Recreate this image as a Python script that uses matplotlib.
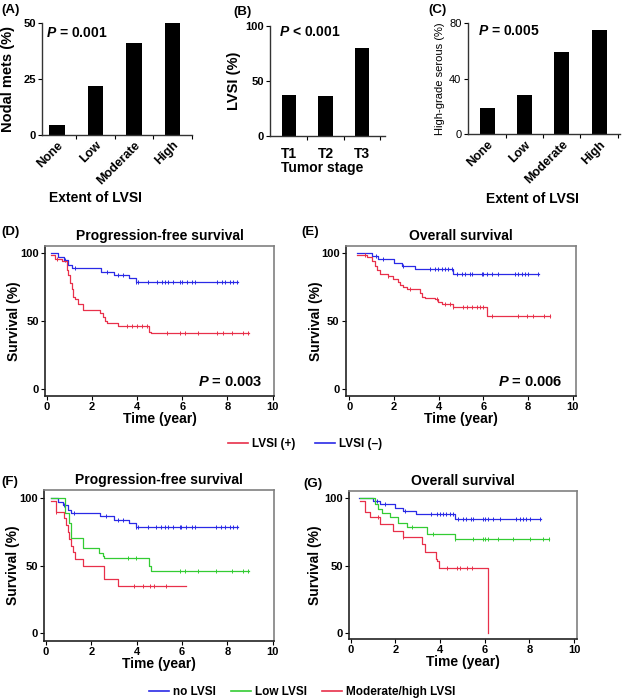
import numpy as np
import matplotlib
matplotlib.use('Agg')
import matplotlib.pyplot as plt
from matplotlib.lines import Line2D

plt.rcParams['font.family'] = ['Liberation Sans', 'DejaVu Sans']
plt.rcParams['mathtext.fontset'] = 'custom'
plt.rcParams['mathtext.it'] = 'Liberation Sans:italic:bold'
plt.rcParams['mathtext.rm'] = 'Liberation Sans:bold'

W, H = 622, 698

# ---- bar data ----
lvsi_extent = ['None', 'Low', 'Moderate', 'High']
nodal_mets = [4.5, 22, 41, 50]
tumor_stage = ['T1', 'T2', 'T3']
lvsi_by_stage = [37, 36, 80]
hg_serous = [19, 28, 59, 75]

# ---- Kaplan-Meier data (step times, survival after step, censor times) ----
pfs_neg_t = [0.2, 0.52, 0.75, 0.95, 1.1, 2.4, 3.0, 3.65, 3.95, 8.45]
pfs_neg_s = [100, 97.5, 95, 91.5, 89, 86.5, 84, 81.5, 79, 79]
pfs_neg_c = [0.81, 1.25, 2.65, 3.17, 3.39, 3.95, 4.06, 4.5, 4.87, 5.09, 5.24, 5.38, 5.6,
             5.9, 5.97, 6.19, 6.42, 6.56, 7.52, 7.74, 7.89, 8.11, 8.26, 8.44]

pfs_pos_t = [0.2, 0.37, 0.66, 0.88, 0.95, 1.03, 1.1, 1.18, 1.25, 1.4, 1.62, 2.36, 2.5,
             2.58, 2.65, 3.17, 4.53, 4.6, 8.95]
pfs_pos_s = [99, 96, 94, 88, 84, 78, 74, 68, 66, 63, 58, 56, 53, 50, 49, 46.5, 42, 41, 41]
pfs_pos_c = [0.44, 3.54, 3.76, 3.98, 4.2, 4.42, 5.31, 5.9, 6.12, 6.71, 7.52, 7.82, 8.19,
             8.7, 8.92]

os_neg_t = [0.35, 1.0, 1.3, 2.0, 2.35, 2.94, 4.66, 8.5]
os_neg_s = [100, 98, 95.5, 93, 90.5, 88.5, 85, 85]
os_neg_c = [1.18, 1.52, 2.42, 3.61, 3.84, 3.99, 4.13, 4.28, 4.43, 4.58, 4.81, 5.03, 5.18,
            5.4, 5.48, 5.93, 6.0, 6.15, 6.37, 6.67, 7.42, 7.57, 7.72, 7.87, 8.01, 8.46]

os_pos_t = [0.35, 0.78, 1.0, 1.15, 1.22, 1.37, 1.75, 1.97, 2.2, 2.27, 2.42, 2.57, 3.16,
            3.24, 3.39, 3.84, 3.99, 4.13, 4.66, 6.15, 8.96]
os_pos_s = [98.5, 97, 94, 91, 88, 85, 83, 81, 79, 77, 75, 74, 71, 68, 67, 66, 64, 63,
            60.5, 53.5, 53.5]
os_pos_c = [0.7, 1.75, 2.72, 3.91, 4.28, 4.51, 4.66, 5.1, 5.25, 5.48, 5.7, 5.85, 6.0,
            6.37, 7.57, 7.94, 8.24, 8.69, 8.96]

pfs_low_t = [0.2, 0.85, 1.03, 1.1, 1.62, 2.36, 2.5, 2.58, 4.55, 4.63, 8.95]
pfs_low_s = [100, 89, 81.5, 70.5, 63, 59.5, 57, 55.7, 50, 45.8, 45.8]
pfs_low_c = [3.61, 3.98, 5.9, 6.12, 6.71, 7.52, 8.19, 8.7, 8.92]

pfs_mh_t = [0.2, 0.44, 0.8, 0.88, 0.95, 1.03, 1.1, 1.18, 1.3, 1.62, 2.55, 3.17, 6.17]
pfs_mh_s = [98, 90, 85, 80, 75, 70, 65, 60, 55, 50, 40, 35, 35]
pfs_mh_c = [0.44, 3.9, 4.28, 4.6, 4.75, 5.31]

os_low_t = [0.4, 1.09, 1.24, 1.39, 1.76, 2.13, 2.5, 3.4, 4.67, 8.9]
os_low_s = [100, 96, 92, 89, 86, 82, 78.5, 73.5, 69.5, 69.5]
os_low_c = [2.73, 3.7, 4.67, 5.49, 5.94, 6.01, 6.16, 6.61, 7.28, 8.03, 8.63, 8.9]

os_mh_t = [0.4, 0.64, 0.87, 1.3, 1.9, 2.33, 3.18, 3.33, 3.8, 3.88, 3.95, 6.16]
os_mh_s = [98, 90, 86, 81, 76, 71, 66, 60, 55, 53, 48.5, 0]
os_mh_c = [1.24, 2.36, 4.3, 4.75, 4.9, 5.19, 5.42]

BLUE = '#2a2ae6'
RED = '#e8304a'
GREEN = '#33cc33'

fig = plt.figure(figsize=(W / 100, H / 100), dpi=100)


def add_ax(l, t, r, b):
    return fig.add_axes([l / W, 1 - b / H, (r - l) / W, (b - t) / H])


def px(x, y):
    return x / W, 1 - y / H


def bar_panel(ax, labels, vals, xlim, ylim, yticks, rot, ybold=True):
    x = np.arange(len(labels))
    ax.bar(x, vals, width=0.4, color='black')
    ax.set_xlim(*xlim)
    ax.set_ylim(*ylim)
    ax.set_yticks(yticks)
    for s in ['top', 'right']:
        ax.spines[s].set_visible(False)
    for s in ['left', 'bottom']:
        ax.spines[s].set_color('#333333')
        ax.spines[s].set_linewidth(1.0)
    ax.tick_params(axis='y', length=3, width=0.8, pad=1.5, labelsize=8)
    for lab in ax.get_yticklabels():
        lab.set_fontweight('bold' if ybold else 'normal')
    ax.set_xticks(x + 0.5, minor=True)
    ax.tick_params(axis='x', which='minor', length=3, width=0.8)
    ax.set_xticks(x)
    if rot:
        ax.set_xticklabels(labels, rotation=45, ha='right', va='top',
                           rotation_mode='anchor', fontsize=9, fontweight='bold')
        ax.tick_params(axis='x', which='major', length=0, pad=3)
    else:
        ax.set_xticklabels(labels, fontsize=10, fontweight='bold')
        ax.tick_params(axis='x', which='major', length=0, pad=8)


# (A)
axA = add_ax(42, 23, 192, 135)
bar_panel(axA, lvsi_extent, nodal_mets, (-0.39, 3.49), (0, 50), [0, 25, 50], True)
axA.set_ylabel('Nodal mets (%)', fontsize=10.5, fontweight='bold')
axA.yaxis.set_label_coords(-0.18, 0.5)
axA.text(-0.28, 45.5, '$P$ = 0.001', fontsize=10, fontweight='bold', va='center')
fig.text(*px(95, 198), 'Extent of LVSI', fontsize=10, fontweight='bold', ha='center', va='center')
fig.text(*px(1, 10), '(A)', fontsize=9.5, fontweight='bold', va='center')

# (B)
axB = add_ax(270, 25.7, 385, 135.7)
bar_panel(axB, tumor_stage, lvsi_by_stage, (-0.52, 2.63), (0, 100), [0, 50, 100], False)
axB.set_ylabel('LVSI (%)', fontsize=10.5, fontweight='bold', labelpad=3)
axB.text(-0.27, 94.5, '$P$ < 0.001', fontsize=10, fontweight='bold', va='center')
fig.text(*px(322, 168), 'Tumor stage', fontsize=10, fontweight='bold', ha='center', va='center')
fig.text(*px(233, 12), '(B)', fontsize=9.5, fontweight='bold', va='center')

# (C)
axC = add_ax(467.7, 23.3, 620, 134.3)
bar_panel(axC, lvsi_extent, hg_serous, (-0.52, 3.56), (0, 80), [0, 40, 80], True, ybold=False)
axC.set_ylabel('High-grade serous (%)', fontsize=8, labelpad=3)
axC.text(-0.25, 74.5, '$P$ = 0.005', fontsize=10, fontweight='bold', va='center')
fig.text(*px(532, 199), 'Extent of LVSI', fontsize=10, fontweight='bold', ha='center', va='center')
fig.text(*px(428, 10), '(C)', fontsize=9.5, fontweight='bold', va='center')


def km(ax, t, s, c, color):
    t = np.asarray(t)
    s = np.asarray(s)
    ax.step(t, s, where='post', color=color, lw=0.9)
    c = np.asarray(c)
    idx = np.searchsorted(t, c, side='right') - 1
    ax.plot(c, s[np.clip(idx, 0, len(s) - 1)], ls='none', marker='|', ms=3,
            mew=0.7, color=color)


def surv_panel(ax, xlim, ylim, title, ylab_x):
    ax.set_xlim(*xlim)
    ax.set_ylim(*ylim)
    ax.set_xticks([0, 2, 4, 6, 8, 10])
    ax.set_yticks([0, 50, 100])
    for s in ['left', 'bottom']:
        ax.spines[s].set_color('#222222')
        ax.spines[s].set_linewidth(1.2)
    for s in ['top', 'right']:
        ax.spines[s].set_color('#808080')
        ax.spines[s].set_linewidth(1.2)
    ax.tick_params(length=3, width=0.8, pad=1.5, labelsize=8)
    for lab in ax.get_xticklabels() + ax.get_yticklabels():
        lab.set_fontweight('bold')
    ax.set_title(title, fontsize=10, fontweight='bold', pad=4)
    ax.set_xlabel('Time (year)', fontsize=10, fontweight='bold', labelpad=0)
    ax.set_ylabel('Survival (%)', fontsize=10, fontweight='bold')
    ax.yaxis.set_label_coords(ylab_x, 0.5)


# (D)
axD = add_ax(45, 245.7, 274, 395.7)
surv_panel(axD, (-0.075, 10.06), (-4.9, 105.6), 'Progression-free survival', -0.105)
km(axD, pfs_neg_t, pfs_neg_s, pfs_neg_c, BLUE)
km(axD, pfs_pos_t, pfs_pos_s, pfs_pos_c, RED)
axD.text(9.55, 5.4, '$P$ = 0.003', fontsize=10.5, fontweight='bold', ha='right', va='center')
fig.text(*px(1, 232), '(D)', fontsize=9.5, fontweight='bold', va='center')

# (E)
axE = add_ax(345.7, 245.7, 575.7, 395.7)
surv_panel(axE, (-0.16, 10.13), (-4.9, 105.6), 'Overall survival', -0.099)
km(axE, os_neg_t, os_neg_s, os_neg_c, BLUE)
km(axE, os_pos_t, os_pos_s, os_pos_c, RED)
axE.text(9.55, 5.4, '$P$ = 0.006', fontsize=10.5, fontweight='bold', ha='right', va='center')
fig.text(*px(301, 232), '(E)', fontsize=9.5, fontweight='bold', va='center')

fig.legend([Line2D([], [], color=RED, lw=1.2), Line2D([], [], color=BLUE, lw=1.2)],
           ['LVSI (+)', 'LVSI (–)'], loc='center', bbox_to_anchor=px(305, 444),
           ncol=2, frameon=False, handlelength=1.7, handletextpad=0.4,
           columnspacing=1.6, prop={'size': 8.5, 'weight': 'bold'})

# (F)
axF = add_ax(44.3, 490, 274, 641)
surv_panel(axF, (-0.075, 10.06), (-5.7, 106.1), 'Progression-free survival', -0.106)
km(axF, pfs_neg_t, pfs_neg_s, pfs_neg_c, BLUE)
km(axF, pfs_low_t, pfs_low_s, pfs_low_c, GREEN)
km(axF, pfs_mh_t, pfs_mh_s, pfs_mh_c, RED)
fig.text(*px(1, 482), '(F)', fontsize=9.5, fontweight='bold', va='center')

# (G)
axG = add_ax(349, 490.7, 576.7, 639)
surv_panel(axG, (-0.08, 10.12), (-4.7, 105.7), 'Overall survival', -0.119)
km(axG, os_neg_t, os_neg_s, os_neg_c, BLUE)
km(axG, os_low_t, os_low_s, os_low_c, GREEN)
km(axG, os_mh_t, os_mh_s, os_mh_c, RED)
fig.text(*px(303, 484), '(G)', fontsize=9.5, fontweight='bold', va='center')

fig.legend([Line2D([], [], color=BLUE, lw=1.2), Line2D([], [], color=GREEN, lw=1.2),
            Line2D([], [], color=RED, lw=1.2)],
           ['no LVSI', 'Low LVSI', 'Moderate/high LVSI'], loc='center',
           bbox_to_anchor=px(302, 692), ncol=3, frameon=False, handlelength=1.7,
           handletextpad=0.3, columnspacing=1.3, prop={'size': 8.5, 'weight': 'bold'})

fig.savefig('out.png', dpi=100)
